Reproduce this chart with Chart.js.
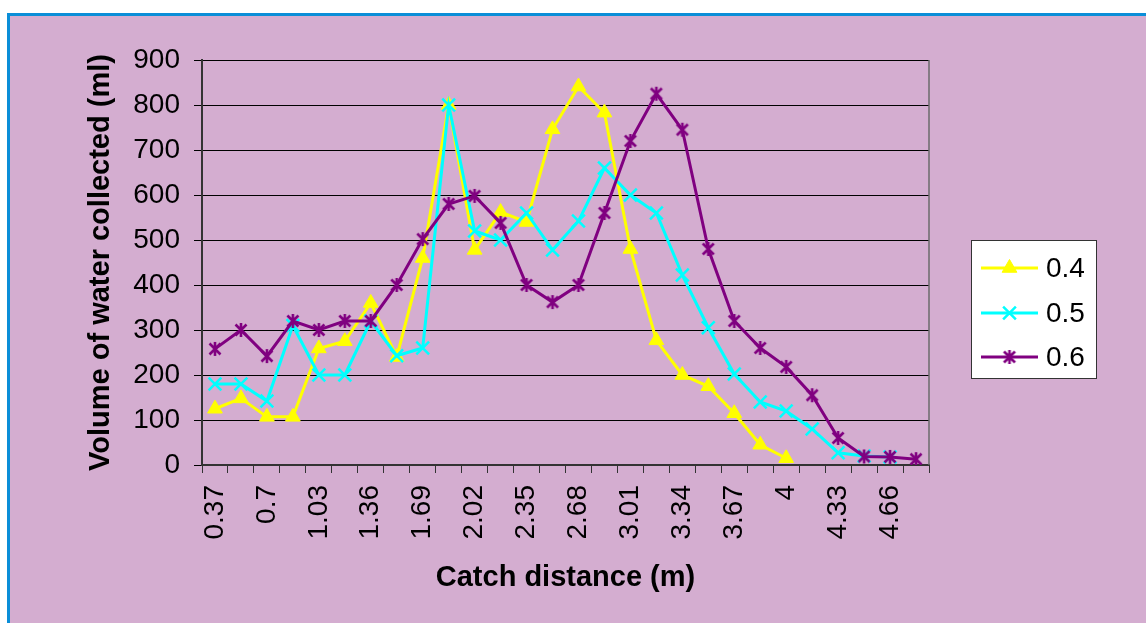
<!DOCTYPE html>
<html>
<head>
<meta charset="utf-8">
<script src="https://cdn.jsdelivr.net/npm/chart.js@4/dist/chart.umd.min.js"></script>
<style>
    html, body { margin: 0; padding: 0; background: #ffffff; overflow: hidden; }
    #frame {
        position: absolute; left: 7px; top: 13px; width: 1200px; height: 700px;
        background: #D4ADD0; border-left: 3px solid #0A8ED8; border-top: 3px solid #0A8ED8;
    }
    #chart { position: absolute; left: 0; top: 0; }
</style>
</head>
<body>
<div id="frame"></div>
<canvas id="chart" width="1146" height="623"></canvas>
<script>
const distances = ["0.37", "0.535", "0.7", "0.865", "1.03", "1.195", "1.36", "1.525", "1.69", "1.855",
    "2.02", "2.185", "2.35", "2.515", "2.68", "2.845", "3.01", "3.175", "3.34", "3.505",
    "3.67", "3.835", "4", "4.165", "4.33", "4.495", "4.66", "4.825"];

const vol04 = [125, 148, 107, 107, 259, 275, 360, 240, 460, 800, 478, 562, 540, 746,
    841, 783, 480, 277, 200, 175, 115, 45, 15];
const vol05 = [180, 180, 142, 310, 200, 200, 320, 243, 260, 800, 520, 500, 560, 478,
    542, 660, 600, 560, 422, 305, 202, 140, 120, 80, 27, 20, 18];
const vol06 = [258, 300, 242, 320, 300, 320, 320, 400, 502, 580, 598, 538, 400, 362,
    400, 560, 720, 825, 745, 480, 320, 260, 218, 155, 60, 19, 18, 13];

const seriesNames = ["0.4", "0.5", "0.6"];
const yTicks = [0, 100, 200, 300, 400, 500, 600, 700, 800, 900];

const FONT = "\"Liberation Sans\", Arial, sans-serif";

// Excel style asterisk marker (X plus a vertical bar)
function asteriskMarker(color) {
    const c = document.createElement("canvas");
    c.width = 16; c.height = 16;
    const g = c.getContext("2d");
    g.strokeStyle = color;
    g.lineWidth = 2.6;
    g.beginPath();
    g.moveTo(2.5, 2.5); g.lineTo(13.5, 13.5);
    g.moveTo(13.5, 2.5); g.lineTo(2.5, 13.5);
    g.moveTo(8, 1); g.lineTo(8, 15);
    g.stroke();
    return c;
}

const purpleStar = asteriskMarker("#800080");

const datasets = [
    {
        label: seriesNames[0], data: vol04, order: 2,
        borderColor: "#FFFF00", backgroundColor: "#FFFF00", borderWidth: 3,
        pointStyle: "triangle", pointRadius: 8.5, pointBorderWidth: 1
    },
    {
        label: seriesNames[1], data: vol05, order: 1,
        borderColor: "#00FFFF", backgroundColor: "#00FFFF", borderWidth: 3,
        pointStyle: "crossRot", pointRadius: 9, pointBorderWidth: 2.5
    },
    {
        label: seriesNames[2], data: vol06, order: 0,
        borderColor: "#800080", backgroundColor: "#800080", borderWidth: 3,
        pointStyle: purpleStar, pointRadius: 8, pointBorderWidth: 1
    }
];

const legendBox = {
    id: "legendBox",
    afterDraw(chart) {
        const ctx = chart.ctx;
        const area = chart.chartArea;
        ctx.save();
        // plot area frame on the right side
        ctx.strokeStyle = "#6b6b6b";
        ctx.lineWidth = 1.5;
        ctx.beginPath();
        ctx.moveTo(area.right, area.top);
        ctx.lineTo(area.right, area.bottom);
        ctx.stroke();

        ctx.fillStyle = "#ffffff";
        ctx.fillRect(971, 240, 126, 139);
        ctx.strokeStyle = "#333333";
        ctx.lineWidth = 1;
        ctx.strokeRect(971.5, 240.5, 125, 138);

        const rows = [268, 313, 357];
        datasets.forEach((ds, i) => {
            const y = rows[i];
            ctx.strokeStyle = ds.borderColor;
            ctx.lineWidth = 3;
            ctx.beginPath();
            ctx.moveTo(981, y);
            ctx.lineTo(1038, y);
            ctx.stroke();
            ctx.fillStyle = ds.backgroundColor;
            ctx.lineWidth = ds.pointBorderWidth;
            Chart.helpers.drawPoint(ctx, {
                pointStyle: ds.pointStyle, rotation: 0,
                radius: ds.pointRadius, borderWidth: ds.pointBorderWidth
            }, 1009.5, y);
            ctx.fillStyle = "#000000";
            ctx.font = "28px " + FONT;
            ctx.textAlign = "left";
            ctx.textBaseline = "middle";
            ctx.fillText(ds.label, 1046, y + 1);
        });
        ctx.restore();
    }
};

new Chart(document.getElementById("chart"), {
    type: "line",
    data: { labels: distances, datasets: datasets },
    plugins: [legendBox],
    options: {
        responsive: false,
        animation: false,
        events: [],
        layout: { padding: { left: 0, right: 217, top: 60, bottom: 0 } },
        plugins: { legend: { display: false }, tooltip: { enabled: false } },
        elements: { line: { tension: 0 } },
        scales: {
            x: {
                type: "category",
                offset: true,
                afterFit(scale) { scale.height = 158; },
                grid: { offset: true, drawOnChartArea: false, drawTicks: true, tickLength: 8, color: "#333333", lineWidth: 1 },
                border: { color: "#333333", width: 2 },
                ticks: {
                    autoSkip: false, minRotation: 90, maxRotation: 90, padding: 12,
                    color: "#000000", font: { family: FONT, size: 28 },
                    callback: (value, index) => index % 2 === 0 ? distances[index] : ""
                },
                title: {
                    display: true, text: "Catch distance (m)", color: "#000000",
                    font: { family: FONT, size: 29, weight: "bold" },
                    padding: { top: 0, bottom: 28 }
                }
            },
            y: {
                min: yTicks[0],
                max: yTicks[yTicks.length - 1],
                afterFit(scale) { scale.width = 202; },
                afterBuildTicks(scale) { scale.ticks = yTicks.map(v => ({ value: v })); },
                grid: { color: "#000000", lineWidth: 1, tickLength: 8 },
                border: { color: "#333333", width: 2 },
                ticks: { padding: 14, color: "#000000", font: { family: FONT, size: 28 } },
                title: {
                    display: true, text: "Volume of water collected (ml)", color: "#000000",
                    font: { family: FONT, size: 29, weight: "bold" },
                    padding: { top: 84, bottom: 0 }
                }
            }
        }
    }
});
</script>
</body>
</html>
